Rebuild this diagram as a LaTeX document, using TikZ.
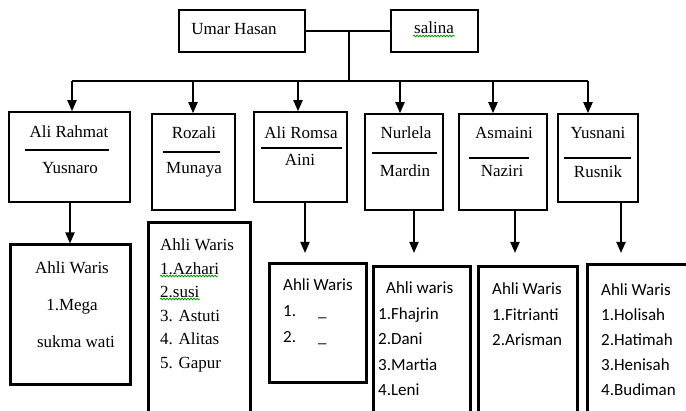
\documentclass[tikz,border=0pt]{standalone}
\usepackage{fontspec}
\setmainfont{Liberation Serif}
\newfontfamily\calibrifont{Carlito}
\usetikzlibrary{arrows.meta,fit,decorations.pathmorphing}

\tikzset{
  kinbox/.style={draw, line width=1.5pt, inner sep=0pt},
  heirbox/.style={draw, line width=3pt, inner sep=0pt},
  nametext/.style={inner sep=0pt, font=\fontsize{17}{20}\selectfont},
  heirlist/.style={inner sep=0pt, anchor=north west, align=left},
  kinline/.style={line width=2pt},
  downarrow/.style={line width=2pt, -{Triangle[length=11pt,width=9pt]}},
  spellmark/.style={green!60!black, line width=0.8pt, decorate,
    decoration={snake, amplitude=0.8pt, segment length=3pt}}
}

\begin{document}
\begin{tikzpicture}[x=1pt,y=-1pt]
  \useasboundingbox (0,0) rectangle (686,411);
  \clip (0,0) rectangle (686,411);

  % parents
  \node[kinbox, fit={(179,10) (305,52)}] (umar) {};
  \node[nametext] (umarname) at (234,29) {Umar Hasan};
  \node[kinbox, fit={(391,10) (478,52)}] (salina) {};
  \node[nametext] (salinaname) at (434,28) {salina};
  \draw[spellmark] (413,36) -- (455,36);
  \draw[kinline] (umar.east) -- (salina.west);
  \coordinate (drop) at (349,81);
  \coordinate (busL) at (72,81);
  \coordinate (busR) at (588,81);
  \draw[kinline] (drop |- umar.east) -- (drop);
  \draw[kinline] (busL) -- (busR);

  % children and their spouses
  \node[kinbox, fit={(9,112) (130,202)}] (rahmat) {};
  \node[nametext] (rahmat1) at (69,132) {Ali Rahmat};
  \draw[line width=1.5pt] (25,150) -- (109,150);
  \node[nametext] (rahmat2) at (70,168) {Yusnaro};

  \node[kinbox, fit={(152,114) (235,210)}] (rozali) {};
  \node[nametext] (rozali1) at (194,133) {Rozali};
  \draw[line width=1.5pt] (163,152) -- (220,152);
  \node[nametext] (rozali2) at (194,170) {Munaya};

  \node[kinbox, fit={(254,112) (347,202)}] (romsa) {};
  \node[nametext] (romsa1) at (301,133) {Ali Romsa};
  \draw[line width=1.5pt] (261,148) -- (342,148);
  \node[nametext] (romsa2) at (300,160) {Aini};

  \node[kinbox, fit={(365,114) (443,210)}] (nurlela) {};
  \node[nametext] (nurlela1) at (406,133) {Nurlela};
  \draw[line width=1.5pt] (372,153) -- (437,153);
  \node[nametext] (nurlela2) at (405,171) {Mardin};

  \node[kinbox, fit={(459,114) (547,210)}] (asmaini) {};
  \node[nametext] (asmaini1) at (504,133) {Asmaini};
  \draw[line width=1.5pt] (469,158) -- (529,158);
  \node[nametext] (asmaini2) at (502,171) {Naziri};

  \node[kinbox, fit={(558,114) (638,202)}] (yusnani) {};
  \node[nametext] (yusnani1) at (598,133) {Yusnani};
  \draw[line width=1.5pt] (564,158) -- (631,158);
  \node[nametext] (yusnani2) at (598,172) {Rusnik};

  \foreach \x/\n in {72/rahmat,193/rozali,298/romsa,400/nurlela,493/asmaini,588/yusnani}
    \draw[downarrow] (\x,81) -- (\n.north -| \x,0);

  % heirs
  \node[heirbox, fit={(10,245) (130,385)}] (waris1) {};
  \node[inner sep=0pt, anchor=north, align=center, font=\fontsize{17}{37}\selectfont]
    (list1) at (72,261.5) {Ahli Waris\\1.Mega\\\hspace{8pt}sukma wati};

  \node[heirbox, fit={(148,223) (250,430)}] (waris2) {};
  \node[heirlist, font=\fontsize{17}{23.6}\selectfont] (list2) at (160,238.5)
    {Ahli Waris\\1.Azhari\\2.susi\\3. Astuti\\4. Alitas\\5. Gapur};
  \draw[spellmark] (160,276) -- (218,276);
  \draw[spellmark] (160,299) -- (200,299);

  \node[heirbox, fit={(269,264) (366,383)}] (waris3) {};
  \node[heirlist, font=\calibrifont\fontsize{17}{26}\selectfont] (list3) at (283,278.5)
    {Ahli Waris\\1.\hspace{22pt}\_\\2.\hspace{22pt}\_};

  \node[heirbox, fit={(373,267) (470,430)}] (waris4) {};
  \node[heirlist, font=\calibrifont\fontsize{17}{25.5}\selectfont] (list4) at (378,281.5)
    {\hspace{8pt}Ahli waris\\1.Fhajrin\\2.Dani\\3.Martia\\4.Leni};

  \node[heirbox, fit={(478,267) (577,430)}] (waris5) {};
  \node[heirlist, font=\calibrifont\fontsize{17}{25.5}\selectfont] (list5) at (492,282.5)
    {Ahli Waris\\1.Fitrianti\\2.Arisman};

  \node[heirbox, fit={(587,265) (700,430)}] (waris6) {};
  \node[heirlist, font=\calibrifont\fontsize{17}{25}\selectfont] (list6) at (601,283.5)
    {Ahli Waris\\1.Holisah\\2.Hatimah\\3.Henisah\\4.Budiman};

  \coordinate (tip3) at (305,253);
  \coordinate (tip4) at (414,253);
  \coordinate (tip5) at (515,253);
  \coordinate (tip6) at (621,253);
  \draw[downarrow] (rahmat.south -| 70,0) -- (waris1.north -| 70,0);
  \draw[downarrow] (romsa.south -| tip3) -- (tip3);
  \draw[downarrow] (nurlela.south -| tip4) -- (tip4);
  \draw[downarrow] (asmaini.south -| tip5) -- (tip5);
  \draw[downarrow] (yusnani.south -| tip6) -- (tip6);
\end{tikzpicture}
\end{document}
